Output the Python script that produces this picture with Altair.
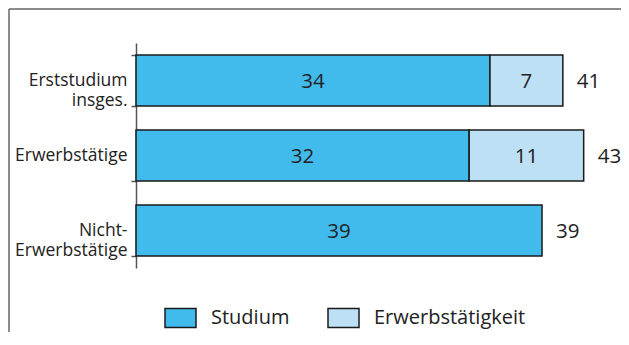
import altair as alt
import pandas as pd

groups = ["Erststudium\ninsges.", "Erwerbstätige", "Nicht-\nErwerbstätige"]
studium = [34, 32, 39]
erwerb = [7, 11, 0]
totals = [41, 43, 39]
series = ["Studium", "Erwerbstätigkeit"]
colors = ["#40BBEC", "#BDE0F5"]

rows = []
for g, s, e in zip(groups, studium, erwerb):
    rows.append({"group": g, "series": series[0], "value": s, "order": 0})
    if e:
        rows.append({"group": g, "series": series[1], "value": e, "order": 1})
df = pd.DataFrame(rows)
tot = pd.DataFrame({"group": groups, "total": totals})

FONT = "Open Sans"
W = 468.5
H = 225
PAD_L = 128
PAD_T = 35
PAD_R = 613 - PAD_L - W
PAD_B = 324 - PAD_T - H

y = alt.Y(
    "group:N",
    sort=groups,
    scale=alt.Scale(paddingInner=0.32, paddingOuter=0.16),
    axis=alt.Axis(
        title=None,
        tickBand="extent",
        domainColor="#555555",
        domainWidth=1.5,
        tickColor="#555555",
        tickWidth=1.5,
        tickSize=5,
        labelPadding=4,
        labelFont=FONT,
        labelFontSize=17.5,
        labelColor="#222222",
        labelLineHeight=20,
        labelExpr="split(datum.label, '\\n')",
    ),
)
xscale = alt.Scale(domain=[0, 45], nice=False, zero=True)

bars = alt.Chart(df).mark_bar(stroke="#1a1a1a", strokeWidth=1.5).encode(
    x=alt.X("value:Q", stack="zero", scale=xscale, axis=None),
    y=y,
    color=alt.Color(
        "series:N",
        scale=alt.Scale(domain=series, range=colors),
        legend=alt.Legend(
            title=None,
            orient="none",
            legendX=28,
            legendY=258,
            direction="horizontal",
            symbolType="M-1,-0.613H1V0.613H-1Z",
            symbolSize=961,
            symbolStrokeColor="#1a1a1a",
            symbolStrokeWidth=1.5,
            labelFont=FONT,
            labelFontSize=20,
            labelColor="#222222",
            labelOffset=14,
            columnPadding=35,
        ),
    ),
    order=alt.Order("order:Q"),
)

seg_text = alt.Chart(df).transform_stack(
    stack="value", groupby=["group"], as_=["x0", "x1"], sort=[alt.SortField("order")]
).transform_calculate(mid="(datum.x0 + datum.x1) / 2").mark_text(
    font=FONT, fontSize=20.5, color="#222222", align="center", baseline="middle", dy=1
).encode(
    x=alt.X("mid:Q", scale=xscale, axis=None),
    y=y,
    text=alt.Text("value:Q"),
)

tot_text = alt.Chart(tot).mark_text(
    font=FONT, fontSize=20.5, color="#222222", align="left", baseline="middle", dx=14, dy=1
).encode(
    x=alt.X("total:Q", scale=xscale, axis=None),
    y=y,
    text=alt.Text("total:Q"),
)

frame_data = alt.Data(values=[{"f": 1}])
frame_v = alt.Chart(frame_data).mark_rule(color="#666666", strokeWidth=1.5).encode(
    x=alt.value(-PAD_L + 1), y=alt.value(-PAD_T + 1), y2=alt.value(H + PAD_B)
)
frame_h = alt.Chart(frame_data).mark_rule(color="#666666", strokeWidth=1.5).encode(
    x=alt.value(-PAD_L + 1), x2=alt.value(W + PAD_R), y=alt.value(-PAD_T + 1)
)

chart = alt.layer(bars, seg_text, tot_text, frame_v, frame_h).properties(
    width=W,
    height=H,
    padding={"left": PAD_L, "top": PAD_T, "right": PAD_R, "bottom": PAD_B},
    autosize=alt.AutoSizeParams(type="none"),
    background="white",
).configure_view(strokeWidth=0)

chart.save("out.html", embed_options={"renderer": "svg", "actions": False})
